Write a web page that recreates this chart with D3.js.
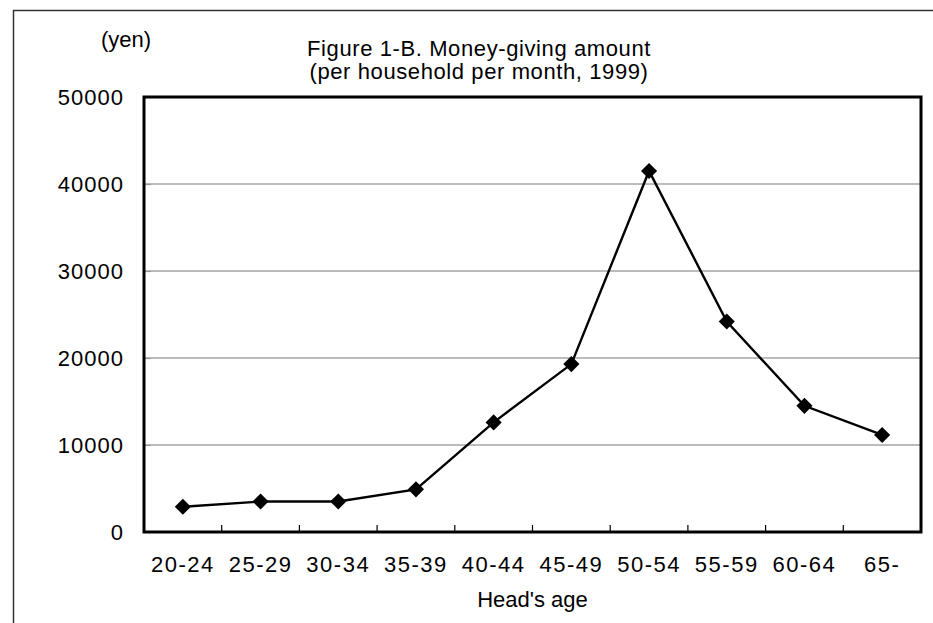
<!DOCTYPE html>
<html>
<head>
<meta charset="utf-8">
<script src="https://cdn.jsdelivr.net/npm/d3@7"></script>
<style>
    body { margin: 0; background: #fff; }
    text { font-family: "Liberation Sans", Arial, sans-serif; fill: #000; }
</style>
</head>
<body>
<div id="chart-area"></div>
<script>
// data
var ageGroups = ["20-24", "25-29", "30-34", "35-39", "40-44", "45-49", "50-54", "55-59", "60-64", "65-"]
var amounts = [2900, 3500, 3500, 4900, 12600, 19300, 41500, 24200, 14500, 11150]
var yTicks = [0, 10000, 20000, 30000, 40000, 50000]

var titleLines = ["Figure 1-B. Money-giving amount", "(per household per month, 1999)"]

var W = 933, H = 623
var margin = { top: 97, right: 12, bottom: 91, left: 144 }
var width = W - margin.left - margin.right
var height = H - margin.top - margin.bottom
var FONT = "22px"

var svg = d3.select("#chart-area").append("svg")
    .attr("width", W)
    .attr("height", H)

// outer frame (runs off the right and bottom of the picture)
svg.append("rect")
    .attr("x", 13.5)
    .attr("y", 10.5)
    .attr("width", W + 20)
    .attr("height", H + 20)
    .attr("fill", "none")
    .attr("stroke", "#333")
    .attr("stroke-width", 1.5)

var g = svg.append("g")
    .attr("transform", "translate(" + margin.left + "," + margin.top + ")")

var x = d3.scaleBand()
    .domain(ageGroups)
    .range([0, width])

var y = d3.scaleLinear()
    .domain([0, 50000])
    .range([height, 0])

// gridlines
g.selectAll(".grid")
    .data(yTicks.filter(d => d > 0 && d < 50000))
    .enter().append("line")
    .attr("class", "grid")
    .attr("x1", 0)
    .attr("x2", width)
    .attr("y1", d => y(d))
    .attr("y2", d => y(d))
    .attr("stroke", "#7a7a7a")
    .attr("stroke-width", 1.2)

// y axis labels
var yAxis = d3.axisLeft(y)
    .tickValues(yTicks)
    .tickSize(-7)
    .tickPadding(20)
    .tickFormat(d3.format("d"))

g.append("g")
    .attr("class", "y-axis")
    .call(yAxis)
    .call(a => a.select(".domain").remove())
    .call(a => a.selectAll(".tick line").attr("stroke", "#999").attr("stroke-width", 1.2))
    .call(a => a.selectAll("text")
        .style("font-size", FONT)
        .attr("letter-spacing", "1px")
        .attr("fill", "#000")
        .attr("font-family", "Liberation Sans, Arial, sans-serif"))

// x axis: ticks between categories, pointing into the plot
var xBoundaries = ageGroups.slice(1)
g.selectAll(".x-tick")
    .data(xBoundaries)
    .enter().append("line")
    .attr("class", "x-tick")
    .attr("x1", d => x(d))
    .attr("x2", d => x(d))
    .attr("y1", height)
    .attr("y2", height - 7)
    .attr("stroke", "#000")
    .attr("stroke-width", 1.2)

g.selectAll(".x-label")
    .data(ageGroups)
    .enter().append("text")
    .attr("class", "x-label")
    .attr("x", d => x(d) + x.bandwidth() / 2)
    .attr("y", height + 40)
    .attr("text-anchor", "middle")
    .style("font-size", FONT)
    .attr("letter-spacing", "1.5px")
    .text(d => d)

// plot frame
g.append("rect")
    .attr("x", 0)
    .attr("y", 0)
    .attr("width", width)
    .attr("height", height)
    .attr("fill", "none")
    .attr("stroke", "#000")
    .attr("stroke-width", 3)

// line + diamond markers
var line = d3.line()
    .x((d, i) => x(ageGroups[i]) + x.bandwidth() / 2)
    .y(d => y(d))

g.append("path")
    .datum(amounts)
    .attr("d", line)
    .attr("fill", "none")
    .attr("stroke", "#000")
    .attr("stroke-width", 2.4)

var diamond = d3.symbol().type(d3.symbolSquare).size(130)
g.selectAll(".marker")
    .data(amounts)
    .enter().append("path")
    .attr("class", "marker")
    .attr("d", diamond)
    .attr("transform", (d, i) => "translate(" + (x(ageGroups[i]) + x.bandwidth() / 2) + "," + y(d) + ") rotate(45)")
    .attr("fill", "#000")

// titles and axis names
svg.selectAll(".title")
    .data(titleLines)
    .enter().append("text")
    .attr("class", "title")
    .attr("x", 479)
    .attr("y", (d, i) => 56 + i * 23)
    .attr("text-anchor", "middle")
    .style("font-size", FONT)
    .attr("letter-spacing", "0.6px")
    .text(d => d)

svg.append("text")
    .attr("x", 126)
    .attr("y", 47)
    .attr("text-anchor", "middle")
    .style("font-size", FONT)
    .text("(yen)")

svg.append("text")
    .attr("x", margin.left + width / 2)
    .attr("y", 607)
    .attr("text-anchor", "middle")
    .style("font-size", FONT)
    .text("Head's age")
</script>
</body>
</html>
